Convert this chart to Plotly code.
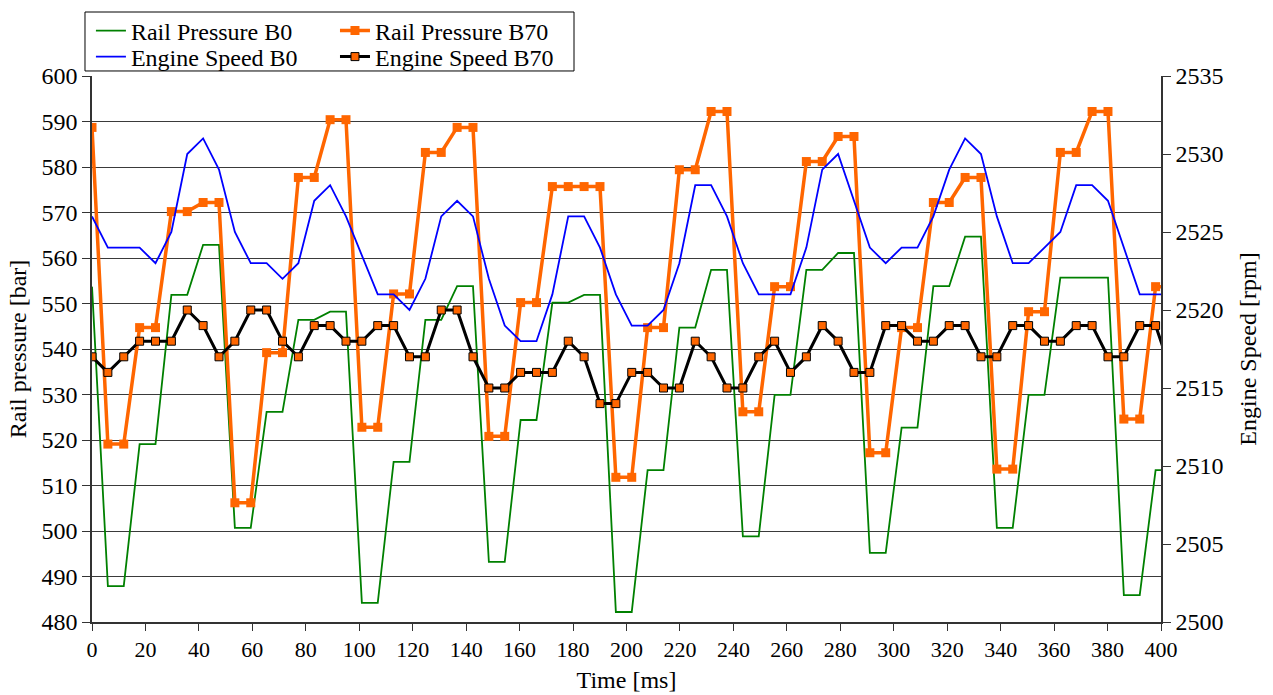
import plotly.graph_objects as go

# Sampling period of the logged signals (one sample every ~5.94 ms)
SAMPLE_MS = 5.94

rail_pressure_b0 = [
    553.7, 487.9, 487.9, 519.1, 519.1, 551.9, 551.9, 562.9, 562.9, 500.7,
    500.7, 526.2, 526.2, 546.4, 546.4, 548.2, 548.2, 484.2, 484.2, 515.2,
    515.2, 546.4, 546.4, 553.8, 553.8, 493.2, 493.2, 524.4, 524.4, 550.2,
    550.2, 551.9, 551.9, 482.2, 482.2, 513.4, 513.4, 544.7, 544.7, 557.4,
    557.4, 498.8, 498.8, 529.9, 529.9, 557.4, 557.4, 561.1, 561.1, 495.2,
    495.2, 522.7, 522.7, 553.8, 553.8, 564.7, 564.7, 500.7, 500.7, 529.9,
    529.9, 555.7, 555.7, 555.7, 555.7, 485.9, 485.9, 513.4, 513.4,
]

rail_pressure_b70 = [
    588.7, 519.1, 519.1, 544.7, 544.7, 570.2, 570.2, 572.2, 572.2, 506.2,
    506.2, 539.2, 539.2, 577.7, 577.7, 590.4, 590.4, 522.8, 522.8, 552.1,
    552.1, 583.2, 583.2, 588.7, 588.7, 520.8, 520.8, 550.2, 550.2, 575.7,
    575.7, 575.7, 575.7, 511.8, 511.8, 544.7, 544.7, 579.4, 579.4, 592.2,
    592.2, 526.2, 526.2, 553.7, 553.7, 581.2, 581.2, 586.7, 586.7, 517.2,
    517.2, 544.7, 544.7, 572.2, 572.2, 577.7, 577.7, 513.6, 513.6, 548.2,
    548.2, 583.2, 583.2, 592.2, 592.2, 524.6, 524.6, 553.7, 553.7,
]

engine_speed_b0 = [
    2526, 2524, 2524, 2524, 2523, 2525, 2530, 2531, 2529, 2525,
    2523, 2523, 2522, 2523, 2527, 2528, 2526, 2523.5, 2521, 2521,
    2520, 2522, 2526, 2527, 2526, 2522, 2519, 2518, 2518, 2521,
    2526, 2526, 2524, 2521, 2519, 2519, 2520, 2523, 2528, 2528,
    2526, 2523, 2521, 2521, 2521, 2524, 2529, 2530, 2527, 2524,
    2523, 2524, 2524, 2526, 2529, 2531, 2530, 2526, 2523, 2523,
    2524, 2525, 2528, 2528, 2527, 2524, 2521, 2521, 2521,
]

engine_speed_b70 = [
    2517, 2516, 2517, 2518, 2518, 2518, 2520, 2519, 2517, 2518,
    2520, 2520, 2518, 2517, 2519, 2519, 2518, 2518, 2519, 2519,
    2517, 2517, 2520, 2520, 2517, 2515, 2515, 2516, 2516, 2516,
    2518, 2517, 2514, 2514, 2516, 2516, 2515, 2515, 2518, 2517,
    2515, 2515, 2517, 2518, 2516, 2517, 2519, 2518, 2516, 2516,
    2519, 2519, 2518, 2518, 2519, 2519, 2517, 2517, 2519, 2519,
    2518, 2518, 2519, 2519, 2517, 2517, 2519, 2519, 2516,
]

time_ms = [round(i * SAMPLE_MS, 2) for i in range(len(rail_pressure_b0))]

x_ticks = list(range(0, 401, 20))
y_ticks = list(range(480, 601, 10))
y2_ticks = list(range(2500, 2536, 5))

FONT = "Liberation Serif, Times New Roman, Times, serif"
ORANGE = "#FF6600"
TXT = dict(family=FONT, color="black")

fig = go.Figure()

fig.add_trace(go.Scatter(
    x=time_ms, y=rail_pressure_b0, name="Rail Pressure B0", mode="lines",
    line=dict(color="#008000", width=1.8), yaxis="y", legend="legend",
))
fig.add_trace(go.Scatter(
    x=time_ms, y=rail_pressure_b70, name="Rail Pressure B70", mode="lines+markers",
    line=dict(color=ORANGE, width=3.5),
    marker=dict(symbol="square", size=9, color=ORANGE, line=dict(width=0)),
    yaxis="y", legend="legend2",
))
fig.add_trace(go.Scatter(
    x=time_ms, y=engine_speed_b0, name="Engine Speed B0", mode="lines",
    line=dict(color="#0000FF", width=1.8), yaxis="y2", legend="legend3",
))
fig.add_trace(go.Scatter(
    x=time_ms, y=engine_speed_b70, name="Engine Speed B70", mode="lines+markers",
    line=dict(color="#000000", width=3),
    marker=dict(symbol="square", size=8, color=ORANGE, line=dict(color="#000000", width=1)),
    yaxis="y2", legend="legend4",
))

# Legend: a 2x2 grid of single-entry legends inside one framed box
def legend_cell(x, y):
    return dict(
        x=x, y=y, xanchor="left", yanchor="middle",
        bgcolor="rgba(0,0,0,0)", borderwidth=0,
        font=dict(size=24, **TXT), itemwidth=30,
    )

col1_x, col2_x = -0.001, 0.2273
row1_y, row2_y = 1.0824, 1.0348

fig.update_layout(
    width=1273, height=695,
    template="none",
    paper_bgcolor="white", plot_bgcolor="white",
    margin=dict(l=92, r=112, t=76, b=73, autoexpand=False),
    font=dict(size=22, **TXT),
    showlegend=True,
    legend=legend_cell(col1_x, row1_y),
    legend2=legend_cell(col2_x, row1_y),
    legend3=legend_cell(col1_x, row2_y),
    legend4=legend_cell(col2_x, row2_y),
    shapes=[dict(
        type="rect", xref="paper", yref="paper",
        x0=-0.00655, x1=0.4509, y0=1.0092, y1=1.1172,
        line=dict(color="black", width=1), fillcolor="white", layer="below",
    )],
    xaxis=dict(
        range=[0, 400], tickmode="array", tickvals=x_ticks,
        ticks="outside", ticklen=7, tickwidth=1, tickcolor="#333333",
        showline=True, linecolor="#333333", linewidth=1.5,
        showgrid=False, zeroline=False, automargin=False,
        tickfont=dict(size=22, **TXT),
        title=dict(text="Time [ms]", font=dict(size=24, **TXT), standoff=10),
    ),
    yaxis=dict(
        range=[480, 600], tickmode="array", tickvals=y_ticks,
        ticks="outside", ticklen=8, tickwidth=1, tickcolor="#333333",
        showline=True, linecolor="#333333", linewidth=1.5,
        showgrid=True, gridcolor="#3a3a3a", gridwidth=1,
        zeroline=False, automargin=False,
        tickfont=dict(size=24, **TXT),
        title=dict(text="Rail pressure [bar]", font=dict(size=24, **TXT), standoff=8),
    ),
    yaxis2=dict(
        range=[2500, 2535], tickmode="array", tickvals=y2_ticks,
        overlaying="y", side="right",
        ticks="outside", ticklen=8, tickwidth=1, tickcolor="#333333",
        showline=True, linecolor="#333333", linewidth=1.5,
        showgrid=False, zeroline=False, automargin=False,
        tickfont=dict(size=24, **TXT),
        title=dict(text="Engine Speed [rpm]", font=dict(size=24, **TXT), standoff=17),
    ),
)

fig.write_html("out.html")
